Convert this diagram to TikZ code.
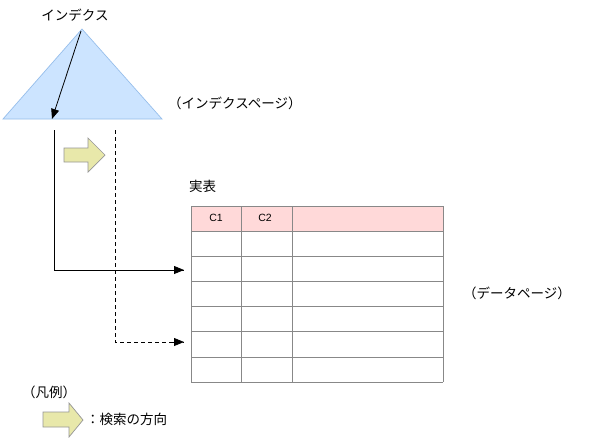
\documentclass[tikz,border=0pt]{standalone}
\usepackage{fontspec}
\setmainfont{Liberation Sans}
\newfontfamily\jp{Noto Sans CJK JP}
\usetikzlibrary{arrows.meta}
\definecolor{triblue}{RGB}{204,228,255}
\definecolor{triedge}{RGB}{150,190,235}
\definecolor{arrowfill}{RGB}{232,232,170}
\definecolor{arrowedge}{RGB}{150,150,150}
\definecolor{headpink}{RGB}{255,217,217}
\definecolor{gridgray}{RGB}{136,136,136}
\begin{document}
\begin{tikzpicture}[x=1pt,y=-1pt,
  jp/.style={font=\jp\fontsize{13.5}{15}\selectfont, inner sep=0pt},
  cell/.style={font=\fontsize{10.5}{12}\selectfont, inner sep=0pt},
  conn/.style={line width=0.8pt, -{Triangle[length=10pt,width=8pt]}},
  blockarrow/.style={fill=arrowfill, draw=arrowedge, line width=0.7pt},
  grid/.style={draw=gridgray, line width=0.8pt}]
\useasboundingbox (0,0) rectangle (598,440);
\fill[white] (0,0) rectangle (598,440);
% index triangle
\filldraw[fill=triblue, draw=triedge, line width=0.7pt] (3,119) -- (82,29) -- (162,119) -- cycle;
\node[jp] (idxlabel) at (75,15) {インデクス};
\node[jp, anchor=west] (idxpage) at (168,103) {（インデクスページ）};
\coordinate (idxtop) at (81,31);
\coordinate (idxbot) at (52,119);
\draw[conn] (idxtop) -- (idxbot);
% search direction arrow
\filldraw[blockarrow] (64,148) -- (88,148) -- (88,138) -- (105,155) -- (88,172) -- (88,162) -- (64,162) -- cycle;
% table
\node[jp, anchor=west] (jitsu) at (189,186) {実表};
\fill[headpink] (191,206) rectangle (443,231);
\foreach \y in {206,231,256,281,306,331,357,382} { \draw[grid] (191,\y) -- (443,\y); }
\foreach \x in {191,241,292,443} { \draw[grid] (\x,206) -- (\x,382); }
\node[cell] (c1) at (216,218) {C1};
\node[cell] (c2) at (265,218) {C2};
\node[jp, anchor=west] (datapage) at (463,293) {（データページ）};
% connectors
\coordinate (s0) at (54,130);
\coordinate (s1) at (184,270);
\draw[line width=0.8pt] (s0) |- (s1);
\draw[conn] (170,270) -- (s1);
\coordinate (d0) at (115,130);
\coordinate (d1) at (184,342);
\draw[line width=0.8pt, dash pattern=on 4pt off 3pt] (d0) |- (d1);
\draw[conn] (172,342) -- (d1);
% legend
\node[jp, anchor=west] (hanrei) at (22,392) {（凡例）};
\filldraw[blockarrow] (43,412) -- (69,412) -- (69,403) -- (83,420) -- (69,437) -- (69,427) -- (43,427) -- cycle;
\node[jp, anchor=west] (legtext) at (86,419) {：検索の方向};
\end{tikzpicture}
\end{document}
